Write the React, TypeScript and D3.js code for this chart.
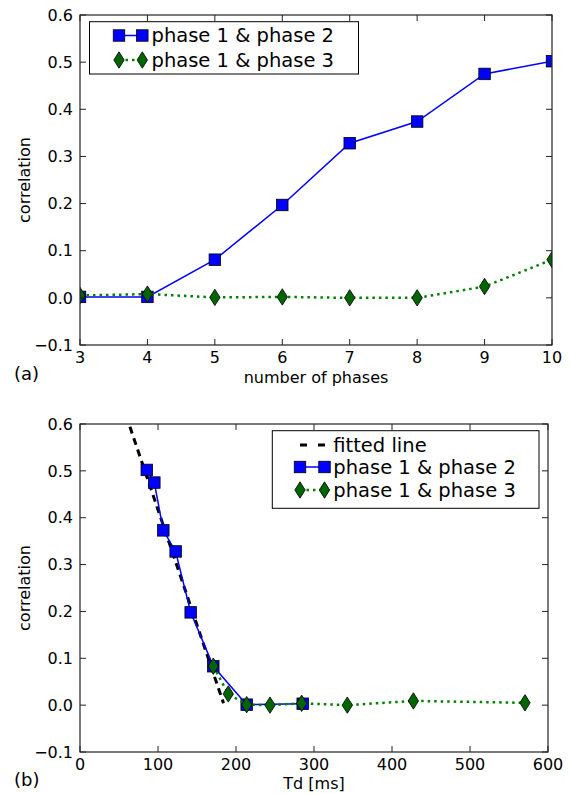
import React from "react";
import * as d3 from "d3";

// ---- data ----
const phasesA = [3, 4, 5, 6, 7, 8, 9, 10];
const corr12A = [0.002, 0.002, 0.081, 0.197, 0.328, 0.374, 0.475, 0.502];
const corr13A = [0.005, 0.008, 0.001, 0.002, 0.0, 0.0, 0.024, 0.081];

const td12 = [85.6, 95.3, 106.8, 122.6, 141.9, 170.9, 213.7, 285.5];
const corr12B = [0.502, 0.475, 0.373, 0.328, 0.198, 0.083, 0.001, 0.003];
const td13 = [170.9, 190.1, 213.7, 243.6, 284.2, 342.7, 427.4, 570.5];
const corr13B = [0.083, 0.024, 0.001, 0.0, 0.004, 0.0, 0.009, 0.005];
const fitX = [64, 184];
const fitY = [0.594, 0.004];

const yTicks = [-0.1, 0, 0.1, 0.2, 0.3, 0.4, 0.5, 0.6];
const xTicksA = [3, 4, 5, 6, 7, 8, 9, 10];
const xTicksB = [0, 100, 200, 300, 400, 500, 600];

const FONT = "DejaVu Sans, Verdana, sans-serif";
const BLUE = "#0000ff";
const GREEN_LINE = "#008000";
const GREEN_FACE = "#006400";
const LEG_FS = 19.5;

const fmtY = (v: number) => {
  const s = v.toFixed(1);
  return s.startsWith("-") ? "\u2212" + s.slice(1) : s;
};

function Square({ x, y }: { x: number; y: number }) {
  const s = 11.5;
  return <rect x={x - s / 2} y={y - s / 2} width={s} height={s} fill={BLUE} stroke="#000" strokeWidth={0.8} />;
}
function Diamond({ x, y }: { x: number; y: number }) {
  const w = 5.2, h = 8.2;
  return (
    <path
      d={`M${x},${y - h}L${x + w},${y}L${x},${y + h}L${x - w},${y}Z`}
      fill={GREEN_FACE}
      stroke="#000"
      strokeWidth={0.8}
    />
  );
}

function Frame({ x0, x1, y0, y1, xs, ys, xTicks }: any) {
  const tl = 6;
  return (
    <g>
      {xTicks.map((t: number) => (
        <g key={"x" + t}>
          <line x1={xs(t)} x2={xs(t)} y1={y1} y2={y1 - tl} stroke="#222" strokeWidth={1} />
          <line x1={xs(t)} x2={xs(t)} y1={y0} y2={y0 + tl} stroke="#222" strokeWidth={1} />
          <text x={xs(t)} y={y1 + 18} textAnchor="middle" fontSize={16} fontFamily={FONT} fill="#000">
            {t}
          </text>
        </g>
      ))}
      {yTicks.map((t) => (
        <g key={"y" + t}>
          <line x1={x0} x2={x0 + tl} y1={ys(t)} y2={ys(t)} stroke="#222" strokeWidth={1} />
          <line x1={x1} x2={x1 - tl} y1={ys(t)} y2={ys(t)} stroke="#222" strokeWidth={1} />
          <text x={73} y={ys(t)} dy="0.36em" textAnchor="end" fontSize={16} fontFamily={FONT} fill="#000">
            {fmtY(t)}
          </text>
        </g>
      ))}
      <rect x={x0} y={y0} width={x1 - x0} height={y1 - y0} fill="none" stroke="#222" strokeWidth={1.2} />
    </g>
  );
}

export default function App() {
  // Plot (a)
  const aX0 = 80, aX1 = 552, aY0 = 15, aY1 = 345;
  const xA = d3.scaleLinear().domain([3, 10]).range([aX0, aX1]);
  const yA = d3.scaleLinear().domain([-0.1, 0.6]).range([aY1, aY0]);
  // Plot (b)
  const bX0 = 80, bX1 = 548, bY0 = 424, bY1 = 752;
  const xB = d3.scaleLinear().domain([0, 600]).range([bX0, bX1]);
  const yB = d3.scaleLinear().domain([-0.1, 0.6]).range([bY1, bY0]);

  const lineA = d3.line<number>().x((_, i) => xA(phasesA[i])).y((d) => yA(d));
  const line12B = d3.line<number>().x((_, i) => xB(td12[i])).y((d) => yB(d));
  const line13B = d3.line<number>().x((_, i) => xB(td13[i])).y((d) => yB(d));
  const lineFit = d3.line<number>().x((_, i) => xB(fitX[i])).y((d) => yB(d));

  return (
    <svg width={570} height={794} style={{ position: "absolute", left: 0, top: 0, background: "#fff" }}>
      <defs>
        <clipPath id="clipA">
          <rect x={aX0} y={aY0} width={aX1 - aX0} height={aY1 - aY0} />
        </clipPath>
        <clipPath id="clipB">
          <rect x={bX0} y={bY0} width={bX1 - bX0} height={bY1 - bY0} />
        </clipPath>
      </defs>
      <rect x={0} y={0} width={570} height={794} fill="#fff" />

      {/* ---------- Plot (a) ---------- */}
      <g clipPath="url(#clipA)">
        <path d={lineA(corr12A) || ""} fill="none" stroke={BLUE} strokeWidth={1.5} />
        {corr12A.map((v, i) => (
          <Square key={"a12" + i} x={xA(phasesA[i])} y={yA(v)} />
        ))}
        <path d={lineA(corr13A) || ""} fill="none" stroke={GREEN_LINE} strokeWidth={2.5} strokeDasharray="2.5,4" />
        {corr13A.map((v, i) => (
          <Diamond key={"a13" + i} x={xA(phasesA[i])} y={yA(v)} />
        ))}
      </g>
      <Frame x0={aX0} x1={aX1} y0={aY0} y1={aY1} xs={xA} ys={yA} xTicks={xTicksA} />

      {/* legend (a) */}
      <rect x={89.5} y={21.7} width={269} height={52.3} fill="#fff" stroke="#000" strokeWidth={1} />
      <line x1={119} x2={142.3} y1={35.5} y2={35.5} stroke={BLUE} strokeWidth={1.5} />
      <Square x={119} y={35.5} />
      <Square x={142.3} y={35.5} />
      <text x={151.5} y={41.7} fontSize={LEG_FS} fontFamily={FONT}>phase 1 &amp; phase 2</text>
      <line x1={119} x2={142.3} y1={60} y2={60} stroke={GREEN_LINE} strokeWidth={2.5} strokeDasharray="2.5,4" />
      <Diamond x={119} y={60} />
      <Diamond x={142.3} y={60} />
      <text x={151.5} y={66.7} fontSize={LEG_FS} fontFamily={FONT}>phase 1 &amp; phase 3</text>

      <text
        transform={`translate(30,${(aY0 + aY1) / 2}) rotate(-90)`}
        textAnchor="middle"
        fontSize={16}
        fontFamily={FONT}
      >
        correlation
      </text>
      <text x={(aX0 + aX1) / 2} y={383} textAnchor="middle" fontSize={16} fontFamily={FONT}>
        number of phases
      </text>
      <text x={14} y={380} fontSize={18} fontFamily={FONT}>(a)</text>

      {/* ---------- Plot (b) ---------- */}
      <g clipPath="url(#clipB)">
        <path d={lineFit(fitY) || ""} fill="none" stroke="#000" strokeWidth={3} strokeDasharray="7,5" />
        <path d={line12B(corr12B) || ""} fill="none" stroke={BLUE} strokeWidth={1.5} />
        {corr12B.map((v, i) => (
          <Square key={"b12" + i} x={xB(td12[i])} y={yB(v)} />
        ))}
        <path d={line13B(corr13B) || ""} fill="none" stroke={GREEN_LINE} strokeWidth={2.5} strokeDasharray="2.5,4" />
        {corr13B.map((v, i) => (
          <Diamond key={"b13" + i} x={xB(td13[i])} y={yB(v)} />
        ))}
      </g>
      <Frame x0={bX0} x1={bX1} y0={bY0} y1={bY1} xs={xB} ys={yB} xTicks={xTicksB} />

      {/* legend (b) */}
      <rect x={272.3} y={430.7} width={266.7} height={77.6} fill="#fff" stroke="#000" strokeWidth={1} />
      <line x1={300} x2={325} y1={445} y2={445} stroke="#000" strokeWidth={3} strokeDasharray="7,11" />
      <text x={333.3} y={451.7} fontSize={LEG_FS} fontFamily={FONT}>fitted line</text>
      <line x1={300} x2={324.5} y1={467} y2={467} stroke={BLUE} strokeWidth={1.5} />
      <Square x={300} y={467} />
      <Square x={324.5} y={467} />
      <text x={333.3} y={473.5} fontSize={LEG_FS} fontFamily={FONT}>phase 1 &amp; phase 2</text>
      <line x1={300} x2={324.5} y1={490} y2={490} stroke={GREEN_LINE} strokeWidth={2.5} strokeDasharray="2.5,4" />
      <Diamond x={300} y={490} />
      <Diamond x={324.5} y={490} />
      <text x={333.3} y={496.7} fontSize={LEG_FS} fontFamily={FONT}>phase 1 &amp; phase 3</text>

      <text
        transform={`translate(30,${(bY0 + bY1) / 2}) rotate(-90)`}
        textAnchor="middle"
        fontSize={16}
        fontFamily={FONT}
      >
        correlation
      </text>
      <text x={(bX0 + bX1) / 2} y={789} textAnchor="middle" fontSize={16} fontFamily={FONT}>
        Td [ms]
      </text>
      <text x={14} y={786} fontSize={18} fontFamily={FONT}>(b)</text>
    </svg>
  );
}
